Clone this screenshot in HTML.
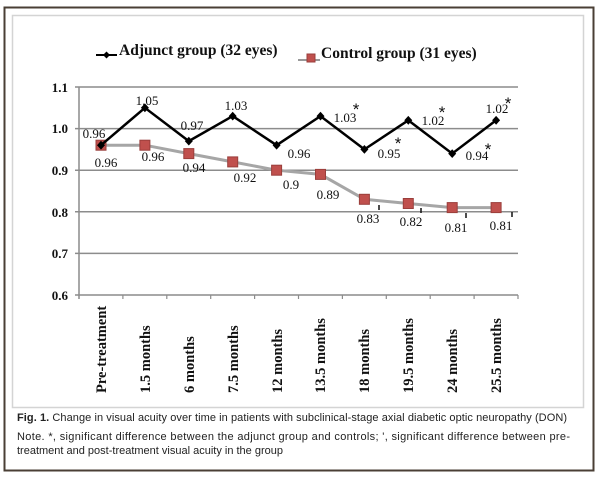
<!DOCTYPE html>
<html><head><style>
body{margin:0;background:#fff;width:600px;height:482px;overflow:hidden}
svg{display:block}
</style></head><body>
<svg width="600" height="482" xmlns="http://www.w3.org/2000/svg">
<rect x="4.5" y="7.5" width="589" height="463" fill="#fff" stroke="#4a3f35" stroke-width="2"/>
<rect x="12.5" y="15.5" width="571" height="392" fill="none" stroke="#d4d4d4" stroke-width="1.5"/>
<!-- legend -->
<g font-family="Liberation Serif, serif" font-weight="bold" font-size="15.5" fill="#111">
<line x1="96" y1="55" x2="117" y2="55" stroke="#000" stroke-width="2"/>
<path d="M106.5 51.5 L110 55 L106.5 58.5 L103 55Z" fill="#000"/>
<text x="119" y="55">Adjunct group (32 eyes)</text>
<line x1="298" y1="60" x2="320" y2="60" stroke="#999" stroke-width="2"/>
<rect x="307" y="54" width="8" height="8" fill="#c0504d" stroke="#9a3e3b"/>
<text x="321" y="58">Control group (31 eyes)</text>
</g>
<!-- grid -->
<g stroke="#8c8c8c" stroke-width="1.5">
<line x1="75" y1="87" x2="518" y2="87"/>
<line x1="75" y1="128.6" x2="518" y2="128.6"/>
<line x1="75" y1="170.2" x2="518" y2="170.2"/>
<line x1="75" y1="211.8" x2="518" y2="211.8"/>
<line x1="75" y1="253.4" x2="518" y2="253.4"/>
<line x1="75" y1="295" x2="518" y2="295"/>
<line x1="79" y1="87" x2="79" y2="299"/>
</g>
<g stroke="#8c8c8c" stroke-width="1.2">
<line x1="122.9" y1="295" x2="122.9" y2="299"/><line x1="166.8" y1="295" x2="166.8" y2="299"/>
<line x1="210.7" y1="295" x2="210.7" y2="299"/><line x1="254.6" y1="295" x2="254.6" y2="299"/>
<line x1="298.5" y1="295" x2="298.5" y2="299"/><line x1="342.4" y1="295" x2="342.4" y2="299"/>
<line x1="386.3" y1="295" x2="386.3" y2="299"/><line x1="430.2" y1="295" x2="430.2" y2="299"/>
<line x1="474.1" y1="295" x2="474.1" y2="299"/><line x1="518" y1="295" x2="518" y2="299"/>
</g>
<g font-family="Liberation Serif, serif" font-weight="bold" font-size="13" fill="#111" text-anchor="end">
<text x="68" y="92">1.1</text><text x="68" y="133">1.0</text><text x="68" y="175">0.9</text>
<text x="68" y="217">0.8</text><text x="68" y="258">0.7</text><text x="68" y="300">0.6</text>
</g>
<!-- control series -->
<polyline fill="none" stroke="#a6a6a6" stroke-width="3" points="101,145.2 144.9,145.2 188.8,153.6 232.7,161.9 276.6,170.2 320.5,174.4 364.4,199.3 408.3,203.5 452.2,207.6 496.1,207.6"/>
<g fill="#c0504d" stroke="#9a3e3b">
<rect x="96" y="140.2" width="10" height="10"/><rect x="139.9" y="140.2" width="10" height="10"/>
<rect x="183.8" y="148.6" width="10" height="10"/><rect x="227.7" y="156.9" width="10" height="10"/>
<rect x="271.6" y="165.2" width="10" height="10"/><rect x="315.5" y="169.4" width="10" height="10"/>
<rect x="359.4" y="194.3" width="10" height="10"/><rect x="403.3" y="198.5" width="10" height="10"/>
<rect x="447.2" y="202.6" width="10" height="10"/><rect x="491.1" y="202.6" width="10" height="10"/>
</g>
<!-- adjunct series -->
<polyline fill="none" stroke="#000" stroke-width="2.5" points="101,145.2 144.9,107.8 188.8,141.1 232.7,116.1 276.6,145.2 320.5,116.1 364.4,149.4 408.3,120.3 452.2,153.6 496.1,120.3"/>
<g fill="#000">
<path d="M101 140.8l4 4.4-4 4.4-4-4.4z"/><path d="M144.9 103.4l4 4.4-4 4.4-4-4.4z"/>
<path d="M188.8 136.7l4 4.4-4 4.4-4-4.4z"/><path d="M232.7 111.7l4 4.4-4 4.4-4-4.4z"/>
<path d="M276.6 140.8l4 4.4-4 4.4-4-4.4z"/><path d="M320.5 111.7l4 4.4-4 4.4-4-4.4z"/>
<path d="M364.4 145l4 4.4-4 4.4-4-4.4z"/><path d="M408.3 115.9l4 4.4-4 4.4-4-4.4z"/>
<path d="M452.2 149.2l4 4.4-4 4.4-4-4.4z"/><path d="M496.1 115.9l4 4.4-4 4.4-4-4.4z"/>
</g>
<!-- data labels -->
<g font-family="Liberation Serif, serif" font-size="13" fill="#111" text-anchor="middle">
<text x="94" y="138">0.96</text><text x="147" y="105">1.05</text><text x="192" y="130">0.97</text>
<text x="236" y="110">1.03</text><text x="299" y="158">0.96</text><text x="345" y="122">1.03</text>
<text x="389" y="158">0.95</text><text x="433" y="125">1.02</text><text x="477" y="160">0.94</text>
<text x="497" y="113">1.02</text>
<text x="106" y="167">0.96</text><text x="153" y="161">0.96</text><text x="194" y="172">0.94</text>
<text x="245" y="182">0.92</text><text x="291" y="189">0.9</text><text x="328" y="199">0.89</text>
<text x="368" y="223">0.83</text><text x="411" y="226">0.82</text><text x="456" y="232">0.81</text>
<text x="501" y="230">0.81</text>
</g>
<g font-family="Liberation Sans, sans-serif" font-size="17" fill="#111" text-anchor="middle">
<text x="356" y="115">*</text><text x="442" y="118">*</text><text x="508" y="109">*</text>
<text x="398" y="149">*</text><text x="488" y="155">*</text>
</g>
<g stroke="#111" stroke-width="1.5">
<line x1="379" y1="205" x2="379" y2="210"/><line x1="421" y1="208" x2="421" y2="213"/>
<line x1="466" y1="213" x2="466" y2="218"/><line x1="512" y1="212" x2="512" y2="217"/>
</g>
<!-- category labels -->
<g font-family="Liberation Serif, serif" font-weight="bold" font-size="14.5" fill="#111" text-anchor="start">
<text transform="translate(106,393) rotate(-90)">Pre-treatment</text>
<text transform="translate(150,393) rotate(-90)">1.5 months</text>
<text transform="translate(194,393) rotate(-90)">6 months</text>
<text transform="translate(238,393) rotate(-90)">7.5 months</text>
<text transform="translate(282,393) rotate(-90)">12 months</text>
<text transform="translate(325,393) rotate(-90)">13.5 months</text>
<text transform="translate(369,393) rotate(-90)">18 months</text>
<text transform="translate(413,393) rotate(-90)">19.5 months</text>
<text transform="translate(457,393) rotate(-90)">24 months</text>
<text transform="translate(501,393) rotate(-90)">25.5 months</text>
</g>
<!-- caption -->
<g font-family="Liberation Sans, sans-serif" font-size="11" fill="#222">
<text x="17" y="421" textLength="550" lengthAdjust="spacing"><tspan font-weight="bold">Fig. 1.</tspan> Change in visual acuity over time in patients with subclinical-stage axial diabetic optic neuropathy (DON)</text>
<text x="17" y="440" textLength="553" lengthAdjust="spacing">Note. *, significant difference between the adjunct group and controls; ', significant difference between pre-</text>
<text x="17" y="454">treatment and post-treatment visual acuity in the group</text>
</g>
</svg>
</body></html>
